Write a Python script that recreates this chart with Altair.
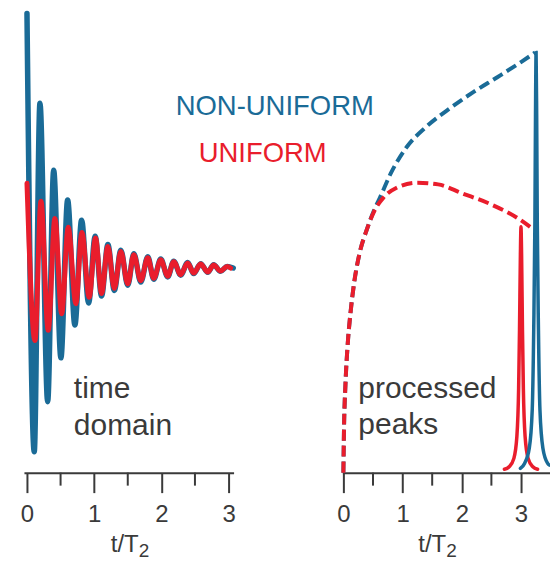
import altair as alt
import pandas as pd

BLUE = "#1a6b97"
RED = "#e91d2c"
INK = "#3a3a3a"
FONT = "Liberation Sans"

# --- time-domain signals: extrema of each damped oscillation (t in units of T2)
fid_t_blue = [0.000, 0.108, 0.193, 0.308, 0.397, 0.505, 0.605, 0.713, 0.813, 0.917,
              1.015, 1.110, 1.204, 1.300, 1.397, 1.500, 1.590, 1.694, 1.798, 1.887,
              1.991, 2.095, 2.184, 2.288, 2.392, 2.481, 2.585, 2.690, 2.779, 2.880,
              2.980, 3.070]
fid_v_blue = [1.000, -0.722, 0.647, -0.525, 0.384, -0.353, 0.267, -0.224, 0.188, -0.137,
              0.125, -0.110, 0.092, -0.088, 0.070, -0.068, 0.056, -0.055, 0.044, -0.044,
              0.035, -0.035, 0.027, -0.028, 0.022, -0.022, 0.017, -0.017, 0.013, -0.013,
              0.006, 0.000]
fid_t_red = [0.000, 0.119, 0.208, 0.316, 0.416, 0.516, 0.614, 0.728, 0.817, 0.926,
             1.020, 1.110, 1.204, 1.300, 1.397, 1.500, 1.590, 1.694, 1.798, 1.887,
             1.991, 2.095, 2.184, 2.288, 2.392, 2.481, 2.585, 2.690, 2.779, 2.880,
             2.980, 3.030]
fid_v_red = [0.333, -0.285, 0.262, -0.245, 0.195, -0.180, 0.160, -0.140, 0.140, -0.115,
             0.118, -0.100, 0.085, -0.080, 0.065, -0.062, 0.052, -0.050, 0.040, -0.040,
             0.032, -0.032, 0.025, -0.026, 0.020, -0.020, 0.016, -0.016, 0.012, -0.012,
             0.006, 0.000]

# --- peak height reached vs. acquisition time (dashed envelopes)
env_t_blue = [0.0, 0.01, 0.035, 0.07, 0.12, 0.18, 0.27, 0.40, 0.52, 0.62, 0.80, 1.07,
              1.40, 1.80, 2.20, 2.60, 3.00, 3.24]
env_v_blue = [0.0, 0.10, 0.21, 0.30, 0.38, 0.45, 0.52, 0.58, 0.625, 0.655, 0.712, 0.775,
              0.823, 0.867, 0.906, 0.941, 0.977, 1.0]
env_t_red = [0.0, 0.01, 0.035, 0.07, 0.12, 0.18, 0.27, 0.40, 0.52, 0.68, 0.90, 1.25,
             1.60, 2.00, 2.50, 2.95, 3.20]
env_v_red = [0.0, 0.10, 0.21, 0.30, 0.38, 0.45, 0.52, 0.58, 0.622, 0.655, 0.678, 0.690,
             0.686, 0.665, 0.638, 0.605, 0.580]

# --- processed (transformed) peaks
peak_t_red = [2.72, 2.80, 2.88, 2.93, 2.96, 2.975, 2.99, 3.00, 3.01, 3.025, 3.04, 3.07,
              3.12, 3.20, 3.28]
peak_v_red = [0.008, 0.014, 0.034, 0.085, 0.20, 0.34, 0.52, 0.585, 0.52, 0.34, 0.20, 0.085,
              0.034, 0.014, 0.008]
peak_t_blue = [2.99, 3.06, 3.14, 3.19, 3.215, 3.235, 3.245, 3.255, 3.265, 3.275, 3.295,
               3.32, 3.37, 3.45, 3.48]
peak_v_blue = [0.010, 0.022, 0.058, 0.15, 0.34, 0.60, 0.85, 1.0, 0.85, 0.60, 0.34,
               0.15, 0.058, 0.022, 0.018]

major_ticks = [0, 1, 2, 3]
minor_ticks = [0.5, 1.5, 2.5]

PANEL_H = 473


def frame(t, v):
    return pd.DataFrame({"t": t, "v": v})


def x_enc(domain):
    return alt.X(
        "t:Q",
        scale=alt.Scale(domain=domain, nice=False, zero=False),
        axis=alt.Axis(
            values=major_ticks, format="d", tickSize=20, tickWidth=2, tickColor=INK,
            domainColor=INK, domainWidth=2, labelFont=FONT, labelFontSize=24,
            labelColor=INK, labelPadding=10, labelFlush=False, grid=False, title=None,
        ),
    )


def y_enc(domain):
    return alt.Y("v:Q", scale=alt.Scale(domain=domain, nice=False, zero=False), axis=None)


def label(text, x, y, size, color=INK, line_height=None):
    kw = dict(font=FONT, fontSize=size, color=color, align="left", baseline="alphabetic")
    if line_height is not None:
        kw["lineHeight"] = line_height
    return alt.Chart(pd.DataFrame({"k": [0]})).mark_text(**kw).encode(
        x=alt.value(x), y=alt.value(y), text=alt.value(text)
    )


def minor(domain):
    return alt.Chart(pd.DataFrame({"t": minor_ticks})).mark_rule(
        color=INK, strokeWidth=2
    ).encode(x=x_enc(domain), y=alt.value(PANEL_H), y2=alt.value(PANEL_H + 13))


# ---------------- left panel: time domain
LX = [-0.045, 3.075]
LY = [-0.804, 1.051]

fid_blue = alt.Chart(frame(fid_t_blue, fid_v_blue)).mark_line(
    color=BLUE, strokeWidth=5.5, interpolate="monotone", strokeCap="round"
).encode(x=x_enc(LX), y=y_enc(LY))
fid_red = alt.Chart(frame(fid_t_red, fid_v_red)).mark_line(
    color=RED, strokeWidth=5, interpolate="monotone", strokeCap="round"
).encode(x=x_enc(LX), y=y_enc(LY))

left = alt.layer(
    fid_blue, fid_red, minor(LX),
    label(["time", "domain"], 50, 398, 30, line_height=37),
    label("NON-UNIFORM", 152, 115, 27.5, color=BLUE),
    label("UNIFORM", 175, 162, 27.5, color=RED),
    label("t/T", 87, 552, 24),
    label("2", 115, 558, 19),
).properties(width=210, height=PANEL_H)

# ---------------- right panel: processed peaks
RX = [-0.017, 3.49]
RY = [0, 1.1235]

env_blue = alt.Chart(frame(env_t_blue, env_v_blue)).mark_line(
    color=BLUE, strokeWidth=4, interpolate="monotone", strokeDash=[11, 5]
).encode(x=x_enc(RX), y=y_enc(RY))
env_red = alt.Chart(frame(env_t_red, env_v_red)).mark_line(
    color=RED, strokeWidth=4, interpolate="monotone", strokeDash=[11, 5]
).encode(x=x_enc(RX), y=y_enc(RY))
pk_red = alt.Chart(frame(peak_t_red, peak_v_red)).mark_line(
    color=RED, strokeWidth=3.5, interpolate="monotone", strokeCap="round"
).encode(x=x_enc(RX), y=y_enc(RY))
pk_blue = alt.Chart(frame(peak_t_blue, peak_v_blue)).mark_line(
    color=BLUE, strokeWidth=3.5, interpolate="monotone", strokeCap="round", clip=True
).encode(x=x_enc(RX), y=y_enc(RY))

right = alt.layer(
    env_blue, env_red, pk_red, pk_blue, minor(RX),
    label(["processed", "peaks"], 16, 398, 30, line_height=36),
    label("t/T", 76, 552, 24),
    label("2", 104, 558, 19),
).properties(width=208, height=PANEL_H)

chart = (
    alt.hconcat(left, right, spacing=109, bounds="flush")
    .properties(padding={"left": 16, "top": 0, "right": 0, "bottom": 0})
    .configure_view(stroke=None)
)

chart.save("out.html", embed_options={"renderer": "svg", "actions": False})
